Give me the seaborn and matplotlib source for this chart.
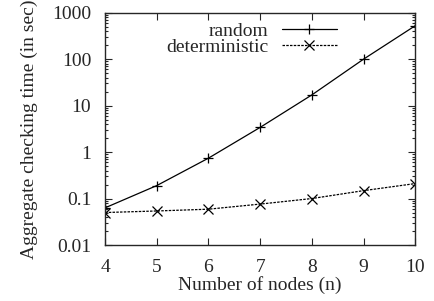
import numpy as np
import pandas as pd
import matplotlib
matplotlib.use("Agg")
import matplotlib.pyplot as plt
import seaborn as sns
from matplotlib.lines import Line2D
from matplotlib.ticker import LogLocator, FixedLocator, FixedFormatter

nodes = [4, 5, 6, 7, 8, 9, 10]
randomTimes = [0.063, 0.19, 0.74, 3.4, 17, 100, 525]
deterministicTimes = [0.050, 0.054, 0.059, 0.076, 0.10, 0.148, 0.21]
seriesNames = ["random", "deterministic"]
yTicks = [0.01, 0.1, 1, 10, 100, 1000]
yTickLabels = ["0.01", "0.1", "1", "10", "100", "1000"]

df = pd.DataFrame({
    "n": nodes * 2,
    "time": randomTimes + deterministicTimes,
    "series": [seriesNames[0]] * len(nodes) + [seriesNames[1]] * len(nodes),
})

sns.set_style("ticks")
plt.rcParams["font.family"] = ["Liberation Serif", "DejaVu Serif"]

fs = 14
fig, ax = plt.subplots(figsize=(4.34, 3.01), dpi=100)
sns.lineplot(
    data=df, x="n", y="time", hue="series", style="series",
    palette=["black", "black"], dashes=[(None, None), (2, 1)],
    markers=["+", "x"], markersize=7, markeredgewidth=0.9, markeredgecolor="black",
    linewidth=0.9, ax=ax, legend=False,
)
ax.set_yscale("log")
ax.set_xlim(4, 10)
ax.set_ylim(0.01, 1000)
ax.yaxis.set_major_locator(FixedLocator(yTicks))
ax.yaxis.set_major_formatter(FixedFormatter(yTickLabels))
ax.yaxis.set_minor_locator(LogLocator(base=10, subs=np.arange(2, 10), numticks=20))
ax.yaxis.set_minor_formatter(FixedFormatter([]))
ax.set_xticks(nodes)
ax.tick_params(which="both", direction="in", top=True, right=True, labelsize=fs, width=0.8)
ax.tick_params(which="major", length=5)
ax.tick_params(which="minor", length=2.5)
ax.tick_params(axis="x", pad=10)
ax.tick_params(axis="y", pad=10)
for s in ax.spines.values():
    s.set_linewidth(1.0)
ax.set_xlabel("Number of nodes (n)", fontsize=fs, labelpad=0)
ax.set_ylabel("Aggregate checking time (in sec)", fontsize=fs, labelpad=10)

# gnuplot-style legend: text right-aligned, sample to the right
handles = [
    Line2D([], [], color="black", lw=0.9, marker="+", markersize=7, markeredgewidth=0.9),
    Line2D([], [], color="black", lw=0.9, ls=(0, (2, 1)), marker="x", markersize=7, markeredgewidth=0.9),
]
leg = ax.legend(handles, seriesNames, loc="upper right", bbox_to_anchor=(0.748, 0.96),
                frameon=False, markerfirst=False, handlelength=2.85, fontsize=fs,
                labelspacing=-0.05, handletextpad=0.7, borderaxespad=0, borderpad=0)
for t in leg.get_texts():
    t.set_ha("right")
leg._legend_box.align = "right"

fig.subplots_adjust(left=0.242, right=0.957, top=0.958, bottom=0.186)
fig.savefig("out.png", dpi=100)
